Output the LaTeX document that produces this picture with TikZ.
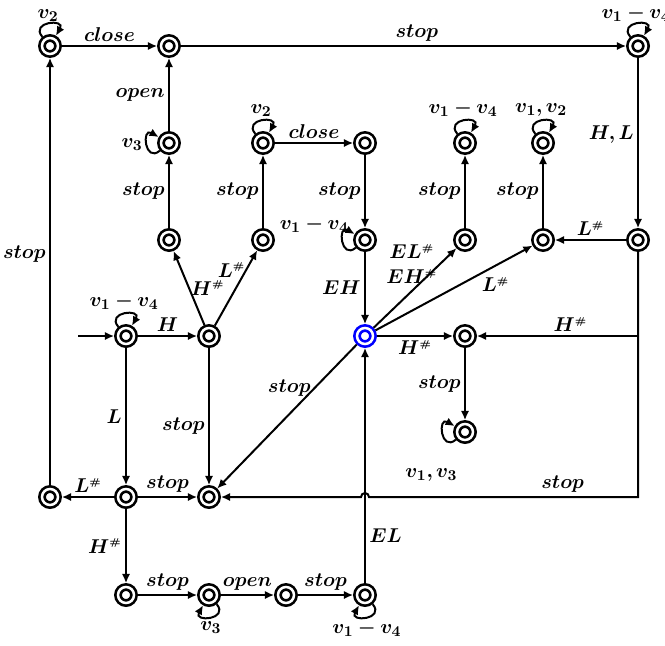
\documentclass[tikz,border=0pt]{standalone}
\usepackage{amsmath,amssymb,bm}
\usepackage{tikz}
\usetikzlibrary{arrows.meta}
\newcommand{\tlab}[1]{$\bm{#1}$}
\newcommand{\hsh}{^{\scriptscriptstyle\#}}

\begin{document}
\begin{tikzpicture}[x=0.6pt,y=-0.6pt,>={Latex[length=5.5pt,width=5pt]},
  st/.style={circle,draw,double=white,line width=1.6pt,double distance=1.5pt,
    minimum size=9.6pt,inner sep=0pt,outer sep=2.35pt},
  tr/.style={->,line width=1.2pt},
  selfloop/.style={distance=12pt},
  every node/.style={inner sep=2pt,font=\fontsize{13}{15}\selectfont}]
\useasboundingbox (0,0) rectangle (665,645);
\foreach \n/\x/\y in {1/50/46,2/169/46,3/638/46,4/169/143,5/263/143,6/365/143,7/465/143,8/543/143,
  9/169/240,10/263/240,11/365/240,12/465/240,13/543/240,14/638/240,0/126/336,15/209/336,
  17/465/336,18/465/432,19/50/497,20/126/497,21/209/497,22/126/595,23/209/595,24/286/595,25/365/595}
  \node[st] (q\n) at (\x,\y) {};
\node[st,draw=blue] (q16) at (365,336) {};
\coordinate (init) at (78,336);
\coordinate (hopR) at (369,497);
% top rows
\draw[tr] (q1) -- node[above]{\tlab{close}} (q2);
\draw[tr] (q2) -- node[above,pos=0.53]{\tlab{stop}} (q3);
\draw[tr] (q3) -- node[left,pos=0.45]{\tlab{H,L}} (q14);
\draw[tr] (q4) -- node[left]{\tlab{open}} (q2);
\draw[tr] (q9) -- node[left]{\tlab{stop}} (q4);
\draw[tr] (q5) -- node[above]{\tlab{close}} (q6);
\draw[tr] (q10) -- node[left]{\tlab{stop}} (q5);
\draw[tr] (q6) -- node[left]{\tlab{stop}} (q11);
\draw[tr] (q12) -- node[left]{\tlab{stop}} (q7);
\draw[tr] (q13) -- node[left]{\tlab{stop}} (q8);
\draw[tr] (q14) -- node[above]{\tlab{L\hsh}} (q13);
\draw[tr] (q11) -- node[left]{\tlab{EH}} (q16);
% middle
\draw[tr] (init) -- (q0);
\draw[tr] (q0) -- node[above]{\tlab{H}} (q15);
\draw[tr] (q15) -- node[right,pos=0.5,inner sep=0.5pt]{\tlab{H\hsh}} (q9);
\draw[tr] (q15) -- node[left,pos=0.74,inner sep=0pt]{\tlab{L\hsh}} (q10);
\draw[tr] (q16) -- node[left,pos=0.8,align=center,inner sep=1pt]{\tlab{EL\hsh}\\\tlab{EH\hsh}} (q12);
\draw[tr] (q16) -- node[below right,pos=0.66,inner sep=1pt]{\tlab{L\hsh}} (q13);
\draw[tr] (q16) -- node[below]{\tlab{H\hsh}} (q17);
\draw[tr] (q14) |- node[above,pos=0.71]{\tlab{H\hsh}} (q17);
\draw[tr] (q17) -- node[left]{\tlab{stop}} (q18);
\draw[tr] (q16) -- node[left,pos=0.3]{\tlab{stop}} (q21);
\draw[tr] (q14) |- node[above,pos=0.64]{\tlab{stop}} (hopR) arc[start angle=0,end angle=180,radius=2.4pt] -- (q21);
% bottom rows
\draw[tr] (q0) -- node[left]{\tlab{L}} (q20);
\draw[tr] (q15) -- node[left,pos=0.57]{\tlab{stop}} (q21);
\draw[tr] (q20) -- node[above]{\tlab{L\hsh}} (q19);
\draw[tr] (q20) -- node[above]{\tlab{stop}} (q21);
\draw[tr] (q19) -- node[left,pos=0.54]{\tlab{stop}} (q1);
\draw[tr] (q20) -- node[left]{\tlab{H\hsh}} (q22);
\draw[tr] (q22) -- node[above]{\tlab{stop}} (q23);
\draw[tr] (q23) -- node[above]{\tlab{open}} (q24);
\draw[tr] (q24) -- node[above]{\tlab{stop}} (q25);
\draw[tr] (q25) -- node[right,pos=0.2]{\tlab{EL}} (q16);
% self loops
\draw[tr] (q1) to[out=130,in=60,selfloop] node[above,inner sep=1pt]{\tlab{v_2}} (q1);
\draw[tr] (q3) to[out=130,in=60,selfloop] node[above,inner sep=1pt]{\tlab{v_1-v_4}} (q3);
\draw[tr] (q4) to[out=220,in=150,selfloop] node[left]{\tlab{v_3}} (q4);
\draw[tr] (q5) to[out=130,in=60,selfloop] node[above]{\tlab{v_2}} (q5);
\draw[tr] (q7) to[out=130,in=60,selfloop] node[above]{\tlab{v_1-v_4}} (q7);
\draw[tr] (q8) to[out=130,in=60,selfloop] node[above]{\tlab{v_1,v_2}} (q8);
\draw[tr] (q11) to[out=220,in=150,selfloop] node[above left,inner sep=0pt,xshift=4pt,yshift=5pt]{\tlab{v_1-v_4}} (q11);
\draw[tr] (q0) to[out=130,in=60,selfloop] node[above]{\tlab{v_1-v_4}} (q0);
\draw[tr] (q18) to[out=220,in=150,selfloop] node[below=20pt,xshift=-7pt,inner sep=0pt]{\tlab{v_1,v_3}} (q18);
\draw[tr] (q23) to[out=-50,in=-120,selfloop] node[below]{\tlab{v_3}} (q23);
\draw[tr] (q25) to[out=-50,in=-120,selfloop] node[below]{\tlab{v_1-v_4}} (q25);
\end{tikzpicture}
\end{document}
